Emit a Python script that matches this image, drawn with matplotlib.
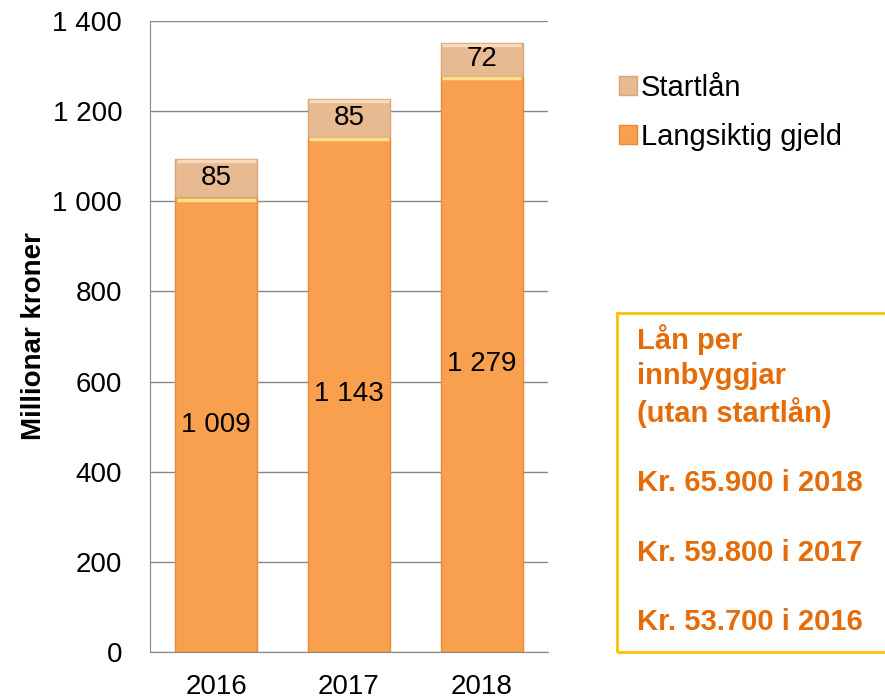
import matplotlib.pyplot as plt
from matplotlib.patches import Rectangle

plt.rcParams['font.family'] = ['Liberation Sans', 'DejaVu Sans']

years = ['2016', '2017', '2018']
langsiktig = [1009, 1143, 1279]
startlan = [85, 85, 72]
yticks = [0, 200, 400, 600, 800, 1000, 1200, 1400]
box_lines = ['Lån per', 'innbyggjar', '(utan startlån)', '',
             'Kr. 65.900 i 2018', '', 'Kr. 59.800 i 2017', '',
             'Kr. 53.700 i 2016']


def fmt(v):
    return f'{v:,}'.replace(',', ' ')


fig = plt.figure(figsize=(8.85, 6.99), dpi=100)
ax = fig.add_axes([0.1695, 0.0672, 0.4497, 0.9027])

x = range(len(years))
b1 = ax.bar(x, langsiktig, width=0.62, color='#F9A04E', edgecolor='#E58A3C',
            linewidth=1.0, label='Langsiktig gjeld', zorder=3)
b2 = ax.bar(x, startlan, bottom=langsiktig, width=0.62, color='#E8BA92',
            edgecolor='#D9A67C', linewidth=1.0, label='Startlån', zorder=3)

# thin highlight on top of each segment (bevel look)
for bars, col in ((b1, '#FFE08A'), (b2, '#F8D9BC')):
    for r in bars:
        ax.plot([r.get_x() + 0.01, r.get_x() + r.get_width() - 0.01],
                [r.get_y() + r.get_height() - 5] * 2,
                color=col, lw=2.5, zorder=4, solid_capstyle='butt')

for i in x:
    ax.text(i, langsiktig[i] / 2, fmt(langsiktig[i]), ha='center',
            va='center', fontsize=20, zorder=5)
    ax.text(i, langsiktig[i] + startlan[i] / 2, fmt(startlan[i]),
            ha='center', va='center', fontsize=20, zorder=5)

ax.set_ylim(0, 1400)
ax.set_xlim(-0.5, 2.5)
ax.set_yticks(yticks)
ax.set_yticklabels([fmt(v) for v in yticks], fontsize=20)
ax.set_xticks(list(x))
ax.set_xticklabels(years, fontsize=20)
ax.tick_params(axis='x', length=0, pad=16)
ax.tick_params(axis='y', length=0, pad=20)
ax.grid(axis='y', color='#888888', linewidth=1, zorder=0)
for s in ('top', 'right'):
    ax.spines[s].set_visible(False)
for s in ('left', 'bottom'):
    ax.spines[s].set_color('#888888')
ax.set_ylabel('Millionar kroner', fontsize=20, fontweight='bold', labelpad=4)

handles = [b2, b1]
fig.legend(handles, [h.get_label() for h in handles], loc='upper left',
           bbox_to_anchor=(0.670, 0.932), frameon=False, fontsize=21,
           handlelength=0.6, handleheight=0.6, handletextpad=0.15,
           labelspacing=0.72)

fig.patches.append(Rectangle((0.697, 0.067), 0.31, 0.485,
                             transform=fig.transFigure, fill=False,
                             edgecolor='#FFC000', linewidth=2))
fig.text(0.72, 0.536, '\n'.join(box_lines), ha='left', va='top',
         fontsize=21, fontweight='bold', color='#E46C0A',
         linespacing=1.3)

fig.savefig('out.png', dpi=100)
